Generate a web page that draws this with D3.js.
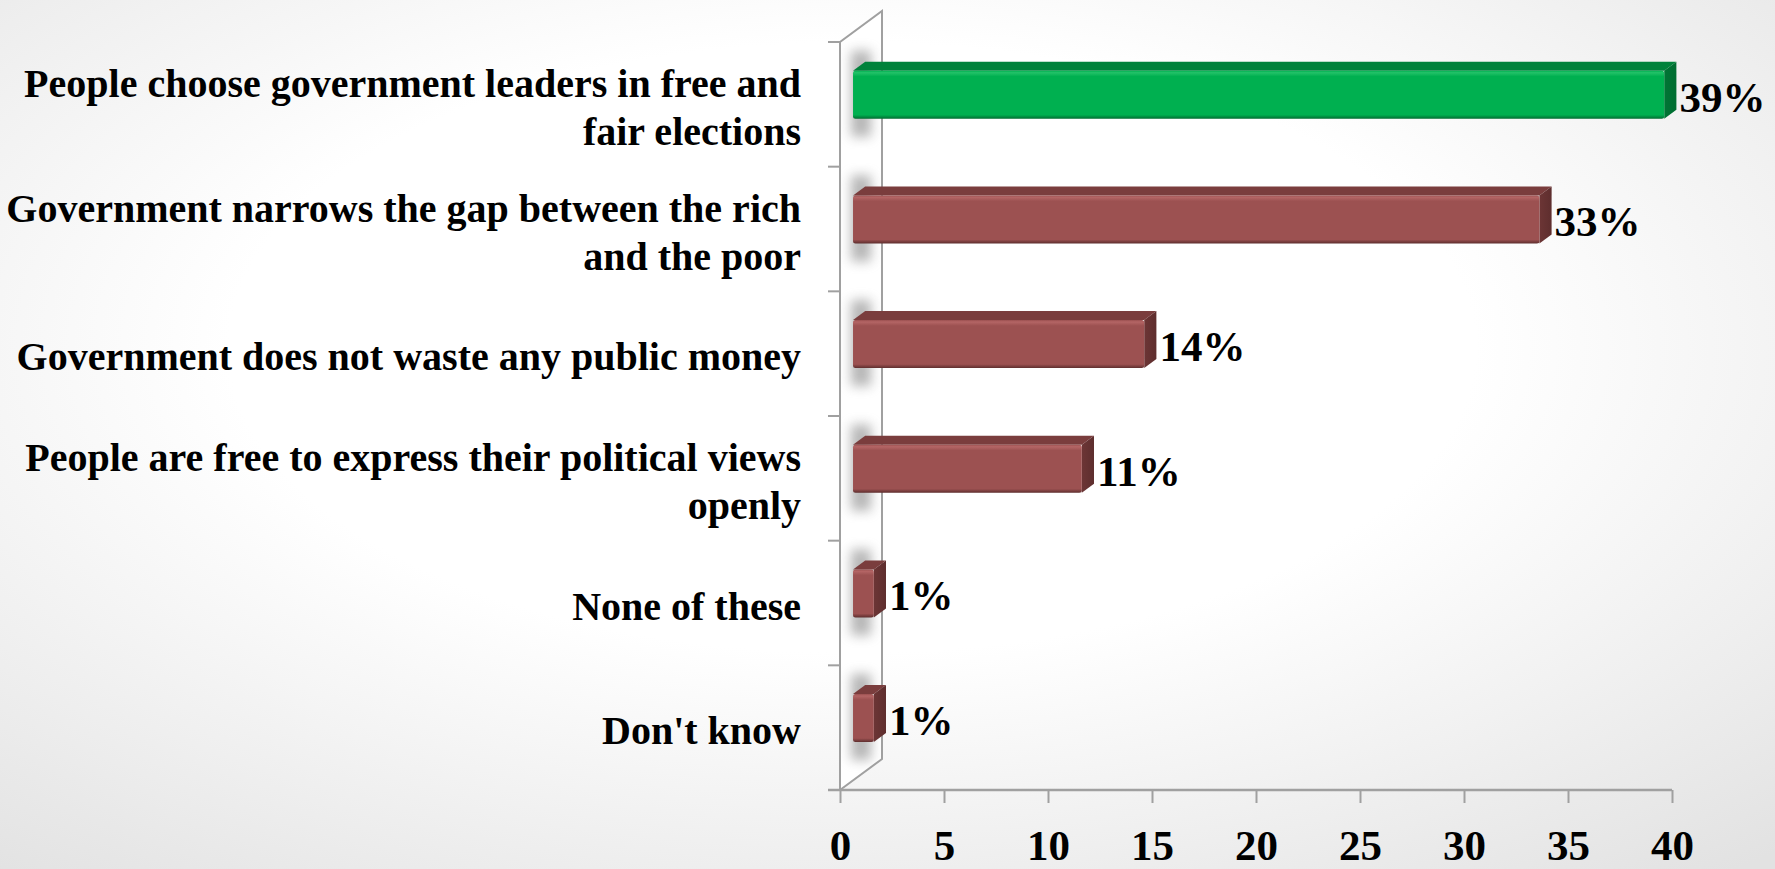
<!DOCTYPE html>
<html>
<head>
<meta charset="utf-8">
<script src="https://cdn.jsdelivr.net/npm/d3@7/dist/d3.min.js"></script>
<style>
  html, body { margin: 0; padding: 0; background: #fff; }
  svg { display: block; }
</style>
</head>
<body>
<svg id="chart" width="1775" height="869"></svg>
<script>
// Survey answers, one entry per bar (top to bottom)
const categories = [
  "People choose government leaders in free and fair elections",
  "Government narrows the gap between the rich and the poor",
  "Government does not waste any public money",
  "People are free to express their political views openly",
  "None of these",
  "Don't know"
];
// How each category label wraps onto lines
const labelLines = [
  ["People choose government leaders in free and", "fair elections"],
  ["Government narrows the gap between the rich", "and the poor"],
  ["Government does not waste any public money"],
  ["People are free to express their political views", "openly"],
  ["None of these"],
  ["Don't know"]
];
// Share of respondents, percent
const values = [39, 33, 14, 11, 1, 1];
// Category that is highlighted in green
const highlighted = ["People choose government leaders in free and fair elections"];
// Horizontal axis ticks
const xTicks = [0, 5, 10, 15, 20, 25, 30, 35, 40];

const W = 1775, H = 869;
const FONT = "'Liberation Serif', 'Times New Roman', serif";
const svg = d3.select("#chart");
const defs = svg.append("defs");

// Soft radial backdrop
const bg = defs.append("radialGradient").attr("id", "bg")
  .attr("cx", "48%").attr("cy", "40%").attr("r", "78%");
bg.append("stop").attr("offset", "0%").attr("stop-color", "#ffffff");
bg.append("stop").attr("offset", "45%").attr("stop-color", "#ffffff");
bg.append("stop").attr("offset", "100%").attr("stop-color", "#e2e2e2");
svg.append("rect").attr("width", W).attr("height", H).attr("fill", "url(#bg)");

// Scales
const x = d3.scaleLinear().domain([0, 40]).range([840, 1672]);
const yTop = 42, yBottom = 790;
const y = d3.scaleBand().domain(categories).range([yTop, yBottom])
  .paddingInner(0.615).paddingOuter(0.3075);

// Oblique depth vector of the 3D frame
const depth = [42, -31];
const tFront = 0.31, tBack = 0.6;
const fdx = depth[0] * tFront, fdy = depth[1] * tFront;
const bdx = depth[0] * (tBack - tFront), bdy = depth[1] * (tBack - tFront);

// Face colours
const palette = {
  green: { front: "#00b050", light: "#22c268", top: "#00823b", side: "#007535", edge: "#006d31" },
  red:   { front: "#9c5151", light: "#b46565", top: "#7a3d3d", side: "#6c3535", edge: "#5e2e2e" }
};

// Gradients for the front and side faces
Object.entries(palette).forEach(([k, c]) => {
  const g = defs.append("linearGradient").attr("id", "front-" + k)
    .attr("x1", 0).attr("y1", 0).attr("x2", 0).attr("y2", 1);
  g.append("stop").attr("offset", "0%").attr("stop-color", c.front);
  g.append("stop").attr("offset", "4%").attr("stop-color", c.light);
  g.append("stop").attr("offset", "12%").attr("stop-color", c.front);
  g.append("stop").attr("offset", "92%").attr("stop-color", c.front);
  g.append("stop").attr("offset", "100%").attr("stop-color", c.edge);
  const s = defs.append("linearGradient").attr("id", "side-" + k)
    .attr("x1", 0).attr("y1", 0).attr("x2", 1).attr("y2", 0);
  s.append("stop").attr("offset", "0%").attr("stop-color", c.side);
  s.append("stop").attr("offset", "100%").attr("stop-color", c.edge);
});

// Blur for the shadows cast on the back wall
defs.append("filter").attr("id", "soft").attr("x", "-100%").attr("y", "-100%")
  .attr("width", "300%").attr("height", "300%")
  .append("feGaussianBlur").attr("stdDeviation", 6);

const x0 = x(0);
const wallPts = [
  [x0, yTop], [x0 + depth[0], yTop + depth[1]],
  [x0 + depth[0], yBottom + depth[1]], [x0, yBottom]
];
defs.append("clipPath").attr("id", "wallClip")
  .append("polygon").attr("points", wallPts.map(p => p.join(",")).join(" "));

// Back wall interior
svg.append("polygon").attr("points", wallPts.map(p => p.join(",")).join(" "))
  .attr("fill", "#ffffff");

// Shadows on the wall
svg.append("g").attr("clip-path", "url(#wallClip)")
  .selectAll("rect").data(categories).join("rect")
  .attr("x", x0 + fdx - 2)
  .attr("y", d => y(d) + fdy - 20)
  .attr("width", 20)
  .attr("height", y.bandwidth() + 38)
  .attr("fill", "#7a7a7a")
  .attr("opacity", 0.55)
  .attr("filter", "url(#soft)");

// Wall frame lines
const frame = svg.append("g").attr("stroke", "#a0a0a0").attr("stroke-width", 2).attr("fill", "none");
frame.append("path").attr("d", d3.line()([[x0, yBottom], [x0, yTop], [x0 + depth[0], yTop + depth[1]], [x0 + depth[0], yBottom + depth[1]], [x0, yBottom]]));
// Category separators on the vertical axis
const step = y.step();
frame.selectAll("line.ytick").data(d3.range(categories.length)).join("line")
  .attr("class", "ytick")
  .attr("x1", x0 - 12).attr("x2", x0)
  .attr("y1", i => yTop + i * step).attr("y2", i => yTop + i * step);

// Horizontal axis
const xAxis = d3.axisBottom(x).tickValues(xTicks).tickSize(13).tickSizeOuter(0).tickPadding(26);
const ax = svg.append("g").attr("transform", `translate(0,${yBottom})`).call(xAxis);
ax.select(".domain").attr("stroke", "#a0a0a0").attr("stroke-width", 2.5)
  .attr("d", `M${x0 - 12},0H${x(40)}`);
ax.selectAll(".tick line").attr("stroke", "#a0a0a0").attr("stroke-width", 2);
ax.selectAll(".tick text").attr("fill", "#000").attr("font-family", FONT)
  .attr("font-weight", "bold").attr("font-size", 43);

// Bars
const data = categories.map((c, i) => ({ c, v: values[i], lines: labelLines[i] }));
const bars = svg.append("g").selectAll("g.bar").data(data).join("g").attr("class", "bar");
const col = d => highlighted.includes(d.c) ? "green" : "red";
const geom = d => {
  const fx0 = x(0) + fdx, fx1 = x(d.v) + fdx;
  const fy0 = y(d.c) + fdy, fy1 = fy0 + y.bandwidth();
  return { fx0, fx1, fy0, fy1 };
};
const poly = pts => d3.line()(pts) + "Z";

bars.append("path")
  .attr("d", d => { const g = geom(d); return poly([[g.fx0, g.fy0], [g.fx0 + bdx, g.fy0 + bdy], [g.fx1 + bdx, g.fy0 + bdy], [g.fx1, g.fy0]]); })
  .attr("fill", d => palette[col(d)].top);
bars.append("path")
  .attr("d", d => { const g = geom(d); return poly([[g.fx1, g.fy0], [g.fx1 + bdx, g.fy0 + bdy], [g.fx1 + bdx, g.fy1 + bdy], [g.fx1, g.fy1]]); })
  .attr("fill", d => `url(#side-${col(d)})`);
bars.append("rect")
  .attr("x", d => geom(d).fx0)
  .attr("y", d => geom(d).fy0)
  .attr("width", d => geom(d).fx1 - geom(d).fx0)
  .attr("height", y.bandwidth())
  .attr("rx", 2.5)
  .attr("fill", d => `url(#front-${col(d)})`);

// Value labels
bars.append("text")
  .attr("x", d => geom(d).fx1 + bdx + 3)
  .attr("y", d => (geom(d).fy0 + geom(d).fy1) / 2 + 17)
  .attr("font-family", FONT).attr("font-weight", "bold").attr("font-size", 43)
  .attr("fill", "#000")
  .text(d => d.v + "%");

// Category labels
const lineGap = 48;
const labels = svg.append("g").selectAll("text").data(data).join("text")
  .attr("text-anchor", "end")
  .attr("font-family", FONT).attr("font-weight", "bold").attr("font-size", 40)
  .attr("fill", "#000");
labels.each(function(d) {
  const cy = y(d.c) + y.bandwidth() / 2 + 3;
  const n = d.lines.length;
  d3.select(this).selectAll("tspan").data(d.lines).join("tspan")
    .attr("x", 801)
    .attr("y", (l, j) => cy + (j - (n - 1) / 2) * lineGap)
    .attr("dominant-baseline", "central")
    .text(l => l);
});
</script>
</body>
</html>
